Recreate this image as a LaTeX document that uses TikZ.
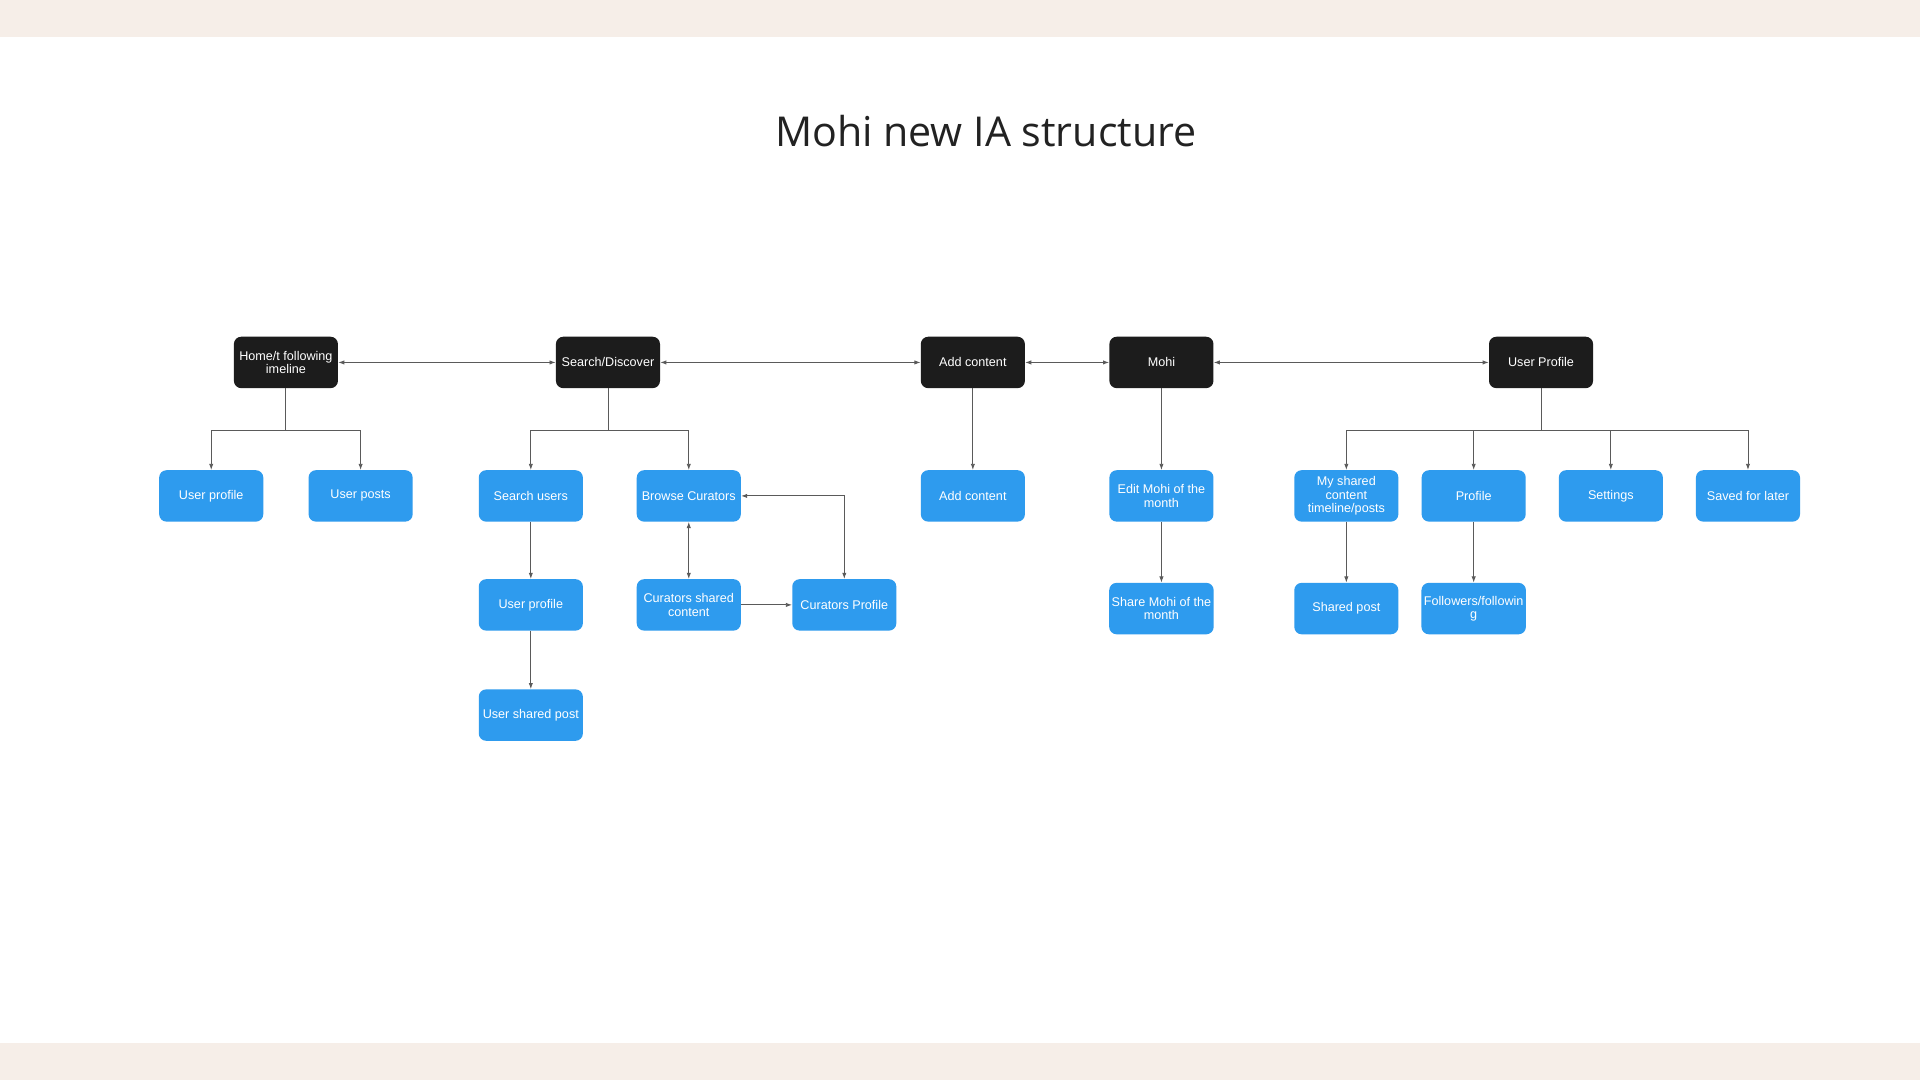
\documentclass[tikz,border=0pt]{standalone}
\usepackage{fontspec}
\setmainfont{Liberation Sans}
\newfontfamily\titlefont{Open Sans}
\usepackage{tikz}
\usetikzlibrary{arrows.meta,positioning,calc}

\definecolor{band}{HTML}{F6EEE8}
\definecolor{nodeblack}{HTML}{1C1C1C}
\definecolor{nodeblue}{HTML}{2E9BEE}
\definecolor{linegray}{HTML}{5A5A5A}
\definecolor{titlegray}{HTML}{222222}

\tikzset{
  topbox/.style={rectangle, rounded corners=6pt, fill=nodeblack, text=white,
    minimum width=85pt, minimum height=42pt, inner sep=2pt, align=center,
    font=\fontsize{10.3}{11}\selectfont},
  subbox/.style={topbox, fill=nodeblue},
  link/.style={draw=linegray, line width=0.7pt,
    arrows={-{Latex[length=5pt,width=3.5pt]}}},
  dlink/.style={link, arrows={{Latex[length=5pt,width=3.5pt]}-{Latex[length=5pt,width=3.5pt]}}}
}

\begin{document}
\begin{tikzpicture}[x=1pt,y=-1pt]
\useasboundingbox (0,0) rectangle (1568,882);
\fill[white] (0,0) rectangle (1568,882);
\fill[band] (0,0) rectangle (1568,30);
\fill[band] (0,852) rectangle (1568,882);

\node[text=titlegray, font=\titlefont\fontsize{33.6}{36}\selectfont] (title) at (805,107) {Mohi new IA structure};

% main sections
\node[topbox] (home) at (233.5,296) {Home/t following\\imeline};
\node[topbox] (search) at (496.5,296) {Search/Discover};
\node[topbox] (add) at (794.5,296) {Add content};
\node[topbox] (mohi) at (948.5,296) {Mohi};
\node[topbox] (user) at (1258.5,296) {User Profile};

% second level
\node[subbox] (hprofile) at (172.5,405) {User profile};
\node[subbox] (hposts) at (294.5,405) {User posts};
\node[subbox] (susers) at (433.5,405) {Search users};
\node[subbox] (browse) at (562.5,405) {Browse Curators};
\node[subbox] (addc) at (794.5,405) {Add content};
\node[subbox] (edit) at (948.5,405) {Edit Mohi of the\\month};
\node[subbox] (myshared) at (1099.5,405) {My shared\\content\\timeline/posts};
\node[subbox] (profile) at (1203.5,405) {Profile};
\node[subbox] (settings) at (1315.5,405) {Settings};
\node[subbox] (saved) at (1427.5,405) {Saved for later};

% third level
\node[subbox] (sprofile) at (433.5,494) {User profile};
\node[subbox] (cshared) at (562.5,494) {Curators shared\\content};
\node[subbox] (cprofile) at (689.5,494) {Curators Profile};
\node[subbox] (share) at (948.5,497) {Share Mohi of the\\month};
\node[subbox] (spost) at (1099.5,497) {Shared post};
\node[subbox] (follow) at (1203.5,497) {Followers/followin\\g};
\node[subbox] (uspost) at (433.5,584) {User shared post};

% top row
\draw[dlink] (home) -- (search);
\draw[dlink] (search) -- (add);
\draw[dlink] (add) -- (mohi);
\draw[dlink] (mohi) -- (user);

% trees
\draw[link] (home.south) -- ++(0,34) -| (hprofile.north);
\draw[link] (home.south) -- ++(0,34) -| (hposts.north);
\draw[link] (search.south) -- ++(0,34) -| (susers.north);
\draw[link] (search.south) -- ++(0,34) -| (browse.north);
\draw[link] (add) -- (addc);
\draw[link] (mohi) -- (edit);
\draw[link] (user.south) -- ++(0,34) -| (myshared.north);
\draw[link] (user.south) -- ++(0,34) -| (profile.north);
\draw[link] (user.south) -- ++(0,34) -| (settings.north);
\draw[link] (user.south) -- ++(0,34) -| (saved.north);

% lower links
\draw[link] (susers) -- (sprofile);
\draw[link] (sprofile) -- (uspost);
\draw[dlink] (browse) -- (cshared);
\draw[link] (cshared) -- (cprofile);
\draw[dlink] (cprofile.north) |- (browse.east);
\draw[link] (edit) -- (share);
\draw[link] (myshared) -- (spost);
\draw[link] (profile) -- (follow);
\end{tikzpicture}
\end{document}
